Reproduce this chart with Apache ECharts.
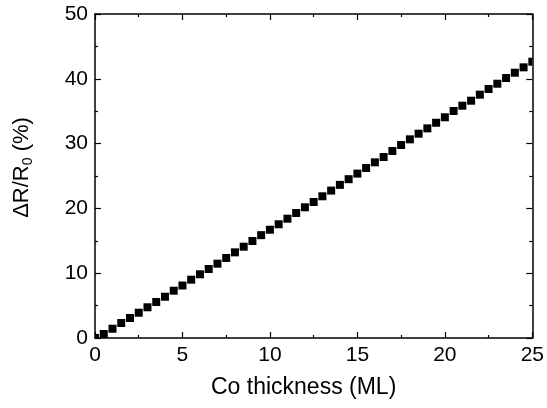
<!DOCTYPE html>
<html>
<head>
    <meta charset="UTF-8">
    <title>Co thickness vs dR/R0</title>
    <script src="https://cdn.jsdelivr.net/npm/echarts@6/dist/echarts.min.js"></script>
</head>
<body style="margin: 0;overflow: hidden;background: #fff;">
<div id="chart" style="width: 547px;height: 408px"></div>
<script type="text/javascript">
    // thickness in ML
    var thickness = [0, 0.5, 1, 1.5, 2, 2.5, 3, 3.5, 4, 4.5, 5, 5.5, 6, 6.5, 7, 7.5, 8, 8.5, 9, 9.5,
        10, 10.5, 11, 11.5, 12, 12.5, 13, 13.5, 14, 14.5, 15, 15.5, 16, 16.5, 17, 17.5, 18, 18.5, 19, 19.5,
        20, 20.5, 21, 21.5, 22, 22.5, 23, 23.5, 24, 24.5, 25];
    // dR/R0 in %
    var ratio = [0, 0.62, 1.43, 2.31, 3.09, 3.90, 4.74, 5.56, 6.37, 7.30, 8.10, 9.00, 9.83, 10.65, 11.47, 12.35,
        13.22, 14.09, 14.97, 15.87, 16.71, 17.55, 18.41, 19.29, 20.17, 20.99, 21.87, 22.75, 23.63, 24.51,
        25.37, 26.24, 27.11, 27.93, 28.86, 29.78, 30.66, 31.53, 32.35, 33.22, 34.06, 35.03, 35.85, 36.62,
        37.55, 38.43, 39.24, 40.12, 40.94, 41.77, 42.64];
    var xTicks = [0, 5, 10, 15, 20, 25];
    var yTicks = [0, 10, 20, 30, 40, 50];

    var font = 'Liberation Sans, Arial, sans-serif';
    var points = [];
    for (var i = 0; i < thickness.length; i++) {
        points.push([thickness[i], ratio[i]]);
    }

    // square marker, cut at the plot frame like the original
    function squareItem(params, api) {
        var p = api.coord([api.value(0), api.value(1)]);
        var s = 8;
        var shape = echarts.graphic.clipRectByRect({
            x: p[0] - s / 2, y: p[1] - s / 2, width: s, height: s
        }, {
            x: params.coordSys.x, y: params.coordSys.y,
            width: params.coordSys.width, height: params.coordSys.height
        });
        return shape && {type: 'rect', shape: shape, style: {fill: '#000'}};
    }

    function boxAxis(extra) {
        var axis = {
            type: 'value',
            axisLine: {show: true, onZero: false, lineStyle: {color: '#000', width: 1.5}},
            axisTick: {show: true, inside: true, length: 6, lineStyle: {color: '#000', width: 1.2}},
            minorTick: {show: true, splitNumber: 2, length: 3, lineStyle: {color: '#000', width: 1.2}},
            splitLine: {show: false},
            axisLabel: {show: false}
        };
        for (var k in extra) axis[k] = extra[k];
        return axis;
    }

    var chart = echarts.init(document.getElementById('chart'));
    chart.setOption({
        animation: false,
        backgroundColor: '#fff',
        grid: {left: 95, right: 11, top: 14, bottom: 70, containLabel: false},
        xAxis: [
            boxAxis({
                position: 'bottom', min: xTicks[0], max: xTicks[xTicks.length - 1], interval: 5,
                axisLabel: {show: true, margin: 7, color: '#000', fontSize: 21, fontFamily: font},
                name: 'Co thickness (ML)', nameLocation: 'middle', nameGap: 38,
                nameTextStyle: {color: '#000', fontSize: 23, fontFamily: font, padding: [0, 20, 0, 0]}
            }),
            boxAxis({position: 'top', min: xTicks[0], max: xTicks[xTicks.length - 1], interval: 5})
        ],
        yAxis: [
            boxAxis({
                position: 'left', min: yTicks[0], max: yTicks[yTicks.length - 1], interval: 10,
                axisLabel: {show: true, margin: 7, color: '#000', fontSize: 21, fontFamily: font},
                name: '{a|ΔR/R}{sub|0}{a| (%)}', nameLocation: 'middle', nameGap: 60, nameRotate: 90,
                nameTextStyle: {
                    color: '#000', fontSize: 22, fontFamily: font, padding: [0, 0, 0, 17],
                    rich: {
                        a: {fontSize: 22, fontFamily: font, color: '#000'},
                        sub: {fontSize: 14, fontFamily: font, color: '#000', padding: [13, 0, 0, 0]}
                    }
                }
            }),
            boxAxis({position: 'right', min: yTicks[0], max: yTicks[yTicks.length - 1], interval: 10})
        ],
        series: [{
            type: 'custom',
            renderItem: squareItem,
            encode: {x: 0, y: 1},
            data: points
        }]
    });
</script>
</body>
</html>
